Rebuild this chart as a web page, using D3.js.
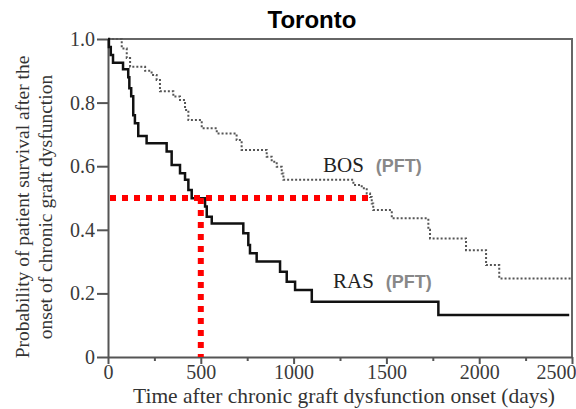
<!DOCTYPE html>
<html>
<head>
<script src="https://cdn.jsdelivr.net/npm/d3@7"></script>
<style>
body { margin: 0; background: white; }
.axis text { font-family: "Liberation Serif", "Times New Roman", serif; font-size: 20px; fill: #3a3a3a; }
.axis path, .axis line { stroke: #555; stroke-width: 2px; }
</style>
</head>
<body>
<script>
// Kaplan-Meier steps (day, survival after the step)
var rasDays = [0, 5, 15, 27, 81, 109, 115, 125, 136, 145, 163, 208, 316, 343, 388, 415, 433, 451, 523, 532, 559, 729, 756, 765, 801, 927, 963, 1008, 1098, 1780, 2485];
var rasSurv = [1.0, 0.975, 0.95, 0.925, 0.905, 0.88, 0.845, 0.82, 0.76, 0.735, 0.695, 0.672, 0.646, 0.604, 0.578, 0.557, 0.525, 0.499, 0.473, 0.441, 0.42, 0.389, 0.352, 0.326, 0.30, 0.268, 0.237, 0.211, 0.174, 0.132, 0.132];

var bosDays = [0, 74, 101, 119, 200, 235, 262, 280, 352, 388, 415, 433, 505, 586, 693, 720, 855, 882, 909, 936, 945, 1322, 1367, 1394, 1412, 1421, 1429, 1529, 1726, 1735, 1929, 2037, 2108, 2500];
var bosSurv = [1.0, 0.97, 0.94, 0.913, 0.90, 0.887, 0.871, 0.836, 0.819, 0.808, 0.777, 0.745, 0.719, 0.703, 0.682, 0.651, 0.630, 0.614, 0.598, 0.577, 0.557, 0.541, 0.531, 0.514, 0.503, 0.483, 0.462, 0.436, 0.40, 0.373, 0.336, 0.289, 0.247, 0.247];

var xMajor = [0, 500, 1000, 1500, 2000, 2500];
var xMinor = [250, 750, 1250, 1750, 2250];
var yTicks = [0, 0.2, 0.4, 0.6, 0.8, 1.0];

// median markers
var medianSurv = 0.5;
var rasMedianDay = 500;
var bosMedianDay = 1405;

var w = 576, h = 409;

var svg = d3.select("body").append("svg")
	.attr("width", w)
	.attr("height", h);

var x = d3.scaleLinear().domain([0, 2500]).range([108, 572]);
var y = d3.scaleLinear().domain([0, 1]).range([357, 39]);

// frame (top and right)
svg.append("path")
	.attr("d", "M" + x(0) + "," + y(1) + "H" + x(2500) + "V" + y(0))
	.attr("fill", "none")
	.attr("stroke", "#666")
	.attr("stroke-width", 2);

// minor x ticks
svg.append("g").attr("class", "axis")
	.attr("transform", "translate(0," + y(0) + ")")
	.call(d3.axisBottom(x).tickValues(xMinor).tickSize(4).tickFormat(""))
	.select(".domain").remove();

var xAxis = svg.append("g").attr("class", "axis")
	.attr("transform", "translate(0," + y(0) + ")")
	.call(d3.axisBottom(x).tickValues(xMajor).tickSize(7).tickSizeOuter(0).tickPadding(1).tickFormat(d3.format("d")));
// last label pulled inside the page like the original
xAxis.selectAll(".tick").filter(function(d) { return d === 2500; }).select("text")
	.attr("text-anchor", "end").attr("dx", 4);

svg.append("g").attr("class", "axis")
	.attr("transform", "translate(" + x(0) + ",0)")
	.call(d3.axisLeft(y).tickValues(yTicks).tickSize(11).tickSizeOuter(0).tickPadding(2)
		.tickFormat(function(d) { return d === 0 ? "0" : d.toFixed(1); }));

function steps(days, surv) {
	return days.map(function(d, i) { return [d, surv[i]]; });
}

var line = d3.line()
	.x(function(d) { return x(d[0]); })
	.y(function(d) { return y(d[1]); })
	.curve(d3.curveStepAfter);

svg.append("path")
	.attr("d", line(steps(bosDays, bosSurv)))
	.attr("fill", "none")
	.attr("stroke", "#555")
	.attr("stroke-width", 2)
	.attr("stroke-dasharray", "2,2");

svg.append("path")
	.attr("d", line(steps(rasDays, rasSurv)))
	.attr("fill", "none")
	.attr("stroke", "#111")
	.attr("stroke-width", 2.5);

// red dotted median guides
svg.append("line")
	.attr("x1", x(0) + 2).attr("x2", x(bosMedianDay))
	.attr("y1", y(medianSurv)).attr("y2", y(medianSurv))
	.attr("stroke", "red").attr("stroke-width", 6).attr("stroke-dasharray", "6,6");
svg.append("line")
	.attr("x1", x(rasMedianDay)).attr("x2", x(rasMedianDay))
	.attr("y1", y(medianSurv)).attr("y2", y(0))
	.attr("stroke", "red").attr("stroke-width", 6).attr("stroke-dasharray", "6,6");

// title
svg.append("text")
	.attr("x", 312).attr("y", 28)
	.attr("text-anchor", "middle")
	.style("font-family", "'Liberation Sans', Arial, sans-serif")
	.style("font-weight", "bold")
	.style("font-size", "24px")
	.text("Toronto");

// axis titles
svg.append("text")
	.attr("x", 344).attr("y", 403)
	.attr("text-anchor", "middle")
	.style("font-family", "'Liberation Serif', serif")
	.style("font-size", "21.5px")
	.style("fill", "#333")
	.text("Time after chronic graft dysfunction onset (days)");

var yl = svg.append("text")
	.attr("transform", "translate(29,207) rotate(-90)")
	.attr("text-anchor", "middle")
	.style("font-family", "'Liberation Serif', serif")
	.style("font-size", "19.5px")
	.style("fill", "#333");
yl.append("tspan").attr("x", 0).attr("y", 0).text("Probability of patient survival after the");
yl.append("tspan").attr("x", 0).attr("y", 23).text("onset of chronic graft dysfunction");

// curve labels
function curveLabel(name, lx, ly) {
	var t = svg.append("text").attr("x", lx).attr("y", ly);
	t.append("tspan")
		.style("font-family", "'Liberation Serif', serif")
		.style("font-size", "21px")
		.style("fill", "#222")
		.text(name);
	t.append("tspan")
		.attr("dx", 12)
		.style("font-family", "'Liberation Sans', Arial, sans-serif")
		.style("font-size", "18px")
		.style("font-weight", "bold")
		.style("fill", "#888")
		.text("(PFT)");
}
curveLabel("BOS", 323, 172);
curveLabel("RAS", 333, 288);
</script>
</body>
</html>
